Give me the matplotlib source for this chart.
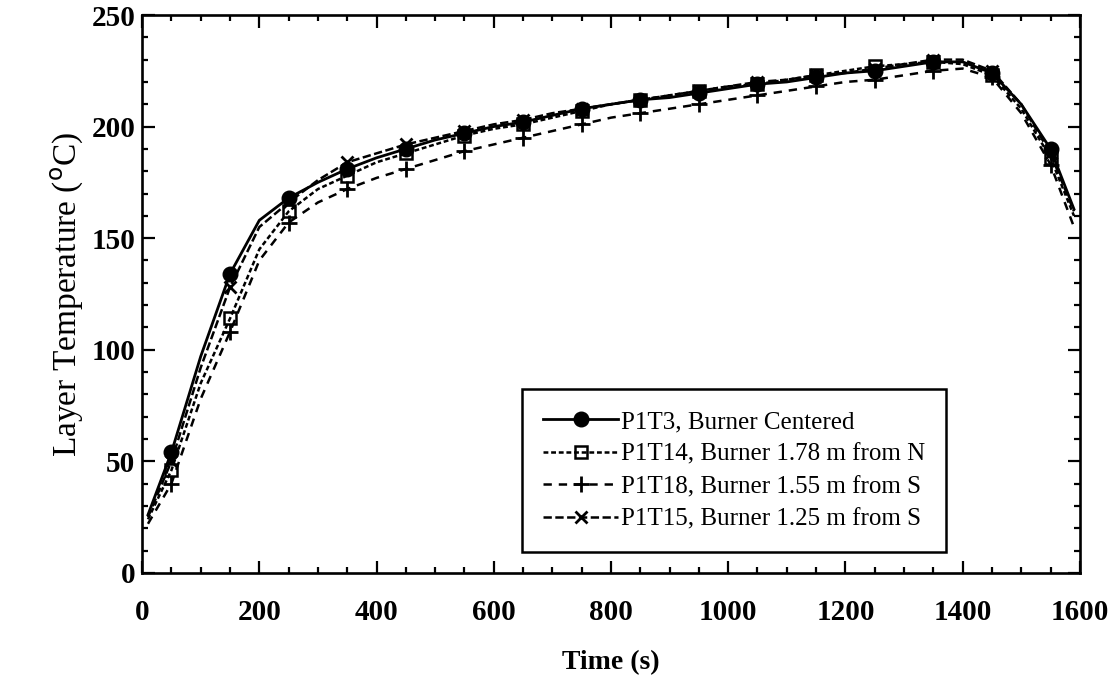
import numpy as np
import matplotlib
matplotlib.use('Agg')
import matplotlib.pyplot as plt
from matplotlib.ticker import MultipleLocator

plt.rcParams['font.family'] = ['Liberation Serif', 'DejaVu Serif']
plt.rcParams['lines.scale_dashes'] = False

#Time (s) and layer temperatures (C)
time = [10, 50, 100, 150, 200, 250, 300, 350, 400, 450, 500, 550, 600, 650, 700, 750,
        800, 850, 900, 950, 1000, 1050, 1100, 1150, 1200, 1250, 1300, 1350, 1400, 1450,
        1500, 1550, 1590]
p1t3 = [26, 54, 97, 134, 158, 168, 175, 181, 186, 190, 194, 197, 200, 202, 205, 208,
        210, 212, 213, 215, 217, 219, 220, 222, 224, 225, 227, 229, 229, 224,
        210, 190, 163]
p1t14 = [24, 46, 85, 114, 145, 162, 172, 178, 184, 188, 192, 196, 199, 201, 204, 207,
         210, 212, 214, 216, 218, 219, 221, 223, 225, 227, 228, 229, 228, 223,
         208, 186, 160]
p1t18 = [22, 40, 78, 108, 140, 157, 166, 172, 177, 181, 185, 189, 192, 195, 198, 201,
         204, 206, 208, 210, 212, 214, 216, 218, 220, 221, 223, 225, 226, 222,
         206, 183, 155]
p1t15 = [25, 50, 92, 128, 155, 166, 176, 184, 188, 192, 195, 198, 201, 203, 206, 208,
         210, 212, 214, 216, 218, 220, 221, 223, 224, 226, 228, 230, 230, 225,
         210, 188, 162]

labels = ['P1T3, Burner Centered', 'P1T14, Burner 1.78 m from N',
          'P1T18, Burner 1.55 m from S', 'P1T15, Burner 1.25 m from S']

fig = plt.figure(figsize=(11.19, 6.82), dpi=100)
ax = fig.add_axes([0.127, 0.160, 0.838, 0.818])

mk = slice(1, None, 2)  # markers at 50, 150, 250, ...
ax.plot(time, p1t3, color='black', lw=2.0, ls='-', marker='o', ms=10.5,
        mfc='black', markevery=mk, label=labels[0])
ax.plot(time, p1t14, color='black', lw=1.8, dashes=(3.5, 2), marker='s', ms=8,
        mfc='none', mew=1.8, markevery=mk, label=labels[1])
ax.plot(time, p1t18, color='black', lw=1.8, dashes=(6, 5), marker='+', ms=12,
        mew=2.0, markevery=mk, label=labels[2])
ax.plot(time, p1t15, color='black', lw=1.8, dashes=(6, 2.5), marker='x', ms=9,
        mew=2.0, markevery=mk, label=labels[3])

ax.set_xlim(0, 1600)
ax.set_ylim(0, 250)
ax.xaxis.set_major_locator(MultipleLocator(200))
ax.xaxis.set_minor_locator(MultipleLocator(50))
ax.yaxis.set_major_locator(MultipleLocator(50))
ax.yaxis.set_minor_locator(MultipleLocator(10))
ax.tick_params(which='both', direction='in', top=True, right=True, width=1.6,
               colors='black')
ax.tick_params(which='major', length=9)
ax.tick_params(which='minor', length=4.5)
ax.tick_params(axis='x', which='major', pad=19)
ax.tick_params(axis='y', which='major', pad=5)
for lab in ax.get_xticklabels() + ax.get_yticklabels():
    lab.set_fontsize(21)
    lab.set_fontweight('bold')
for sp in ax.spines.values():
    sp.set_linewidth(1.9)

ax.set_xlabel('Time (s)', fontsize=20, fontweight='bold', labelpad=17)
ax.set_ylabel('Layer Temperature ($^{\\mathrm{o}}$C)', fontsize=24, labelpad=4)

leg = ax.legend(loc='lower left', bbox_to_anchor=(0.405, 0.0376), borderaxespad=0,
                fontsize=18, handlelength=3.0, handletextpad=0.1, labelspacing=0.4,
                fancybox=False, framealpha=1, edgecolor='black', borderpad=0.85)
leg.get_frame().set_linewidth(1.8)

fig.savefig('out.png', dpi=100)
